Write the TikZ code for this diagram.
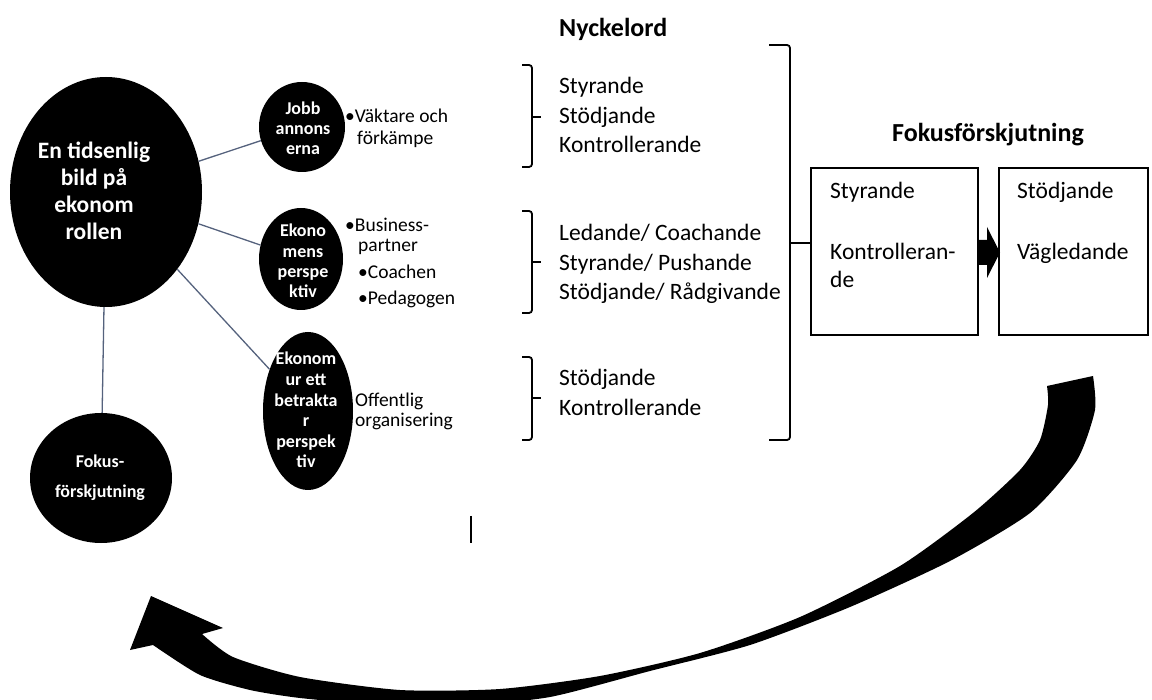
\documentclass[tikz,border=0pt]{standalone}
\usepackage{fontspec}
\setmainfont{Carlito}
\usetikzlibrary{shapes.geometric}
\definecolor{linkc}{RGB}{85,98,125}
\tikzset{
  blob/.style={ellipse, fill=black, inner sep=0pt},
  wtxt/.style={text=white, anchor=base, inner sep=0pt, font=\bfseries\fontsize{18}{20}\selectfont},
  wbig/.style={text=white, anchor=base, inner sep=0pt, font=\bfseries\fontsize{23.5}{27}\selectfont},
  ltxt/.style={anchor=base west, inner sep=0pt, font=\fontsize{23.5}{28}\selectfont},
  btxt/.style={anchor=base west, inner sep=0pt, font=\fontsize{19.5}{22}\selectfont},
  head/.style={anchor=base west, inner sep=0pt, font=\bfseries\fontsize{26}{30}\selectfont},
  link/.style={draw=linkc, line width=1.3pt},
  brk/.style={line width=1.8pt, rounded corners=3pt},
  boxnode/.style={draw, line width=1.8pt, inner sep=0pt, minimum height=167pt},
}
\begin{document}
\begin{tikzpicture}[x=1pt,y=-1pt]
\useasboundingbox (0,0) rectangle (1152,700);
\begin{scope}
\clip (0,0) rectangle (1152,700);

% ellipses
\node[blob, minimum width=192pt, minimum height=230pt] (main) at (106,192) {};
\node[blob, minimum width=86pt, minimum height=90pt] (jobb) at (302,127) {};
\node[blob, minimum width=84pt, minimum height=102pt] (ekon) at (301,259) {};
\node[blob, minimum width=90pt, minimum height=158pt] (betr) at (308,411) {};
\node[blob, minimum width=142pt, minimum height=130pt] (fokus) at (101,478) {};

% connectors
\draw[link] (main) -- (jobb);
\draw[link] (main) -- (ekon);
\draw[link] (main) -- (betr);
\draw[link] (main) -- (fokus);

% texts in ellipses
\foreach \t [count=\i] in {En tidsenlig,bild på,ekonom,rollen}
  \node[wbig] (mt\i) at (94,{159+27*(\i-1)}) {\t};
\foreach \t [count=\i] in {Jobb,annons,erna}
  \node[wtxt] (jt\i) at (303,{115+20*(\i-1)}) {\t};
\foreach \t [count=\i] in {Ekono,mens,perspe,ktiv}
  \node[wtxt] (et\i) at (303,{237+20.3*(\i-1)}) {\t};
\foreach \t [count=\i] in {Ekonom,ur ett,betrakta,r,perspek,tiv}
  \node[wtxt] (bt\i) at (306,{365+20.6*(\i-1)}) {\t};
\node[wtxt] (ft1) at (100,468) {Fokus-};
\node[wtxt] (ft2) at (100,497) {förskjutning};

% bullet texts
\node[btxt] (v1) at (345,123) {•Väktare och};
\node[btxt] (v2) at (357,145) {förkämpe};
\node[btxt] (p1) at (345,232) {•Business-};
\node[btxt] (p2) at (358,252) {partner};
\node[btxt] (p3) at (358,279) {•Coachen};
\node[btxt] (p4) at (358,305) {•Pedagogen};
\node[btxt] (o1) at (355,407) {Offentlig};
\node[btxt] (o2) at (355,427) {organisering};

% headings
\node[head] (nyck) at (559,37) {Nyckelord};
\node[head] (fokh) at (892,142) {Fokusförskjutning};

% keyword lists
\node[ltxt] (k11) at (559,94) {Styrande};
\node[ltxt] (k12) at (559,124) {Stödjande};
\node[ltxt] (k13) at (559,153) {Kontrollerande};
\node[ltxt] (k21) at (559,241) {Ledande/ Coachande};
\node[ltxt] (k22) at (559,271) {Styrande/ Pushande};
\node[ltxt] (k23) at (559,300) {Stödjande/ Rådgivande};
\node[ltxt] (k31) at (559,386) {Stödjande};
\node[ltxt] (k32) at (559,416) {Kontrollerande};

% small brackets
\draw[brk] (522,65) -- (532,65) -- (532,167) -- (522,167);
\draw[line width=1.8pt] (532,117) -- (541,117);
\draw[brk] (522,211) -- (532,211) -- (532,313) -- (522,313);
\draw[line width=1.8pt] (532,262) -- (541,262);
\draw[brk] (522,357) -- (532,357) -- (532,440) -- (522,440);
\draw[line width=1.8pt] (532,398) -- (541,398);

% boxes
\node[boxnode, minimum width=167pt] (b1) at (894.5,251.5) {};
\node[boxnode, minimum width=149pt] (b2) at (1073.5,251.5) {};
\node[ltxt] (s1) at (830,199) {Styrande};
\node[ltxt] (s2) at (830,260) {Kontrolleran-};
\node[ltxt] (s3) at (830,288) {de};
\node[ltxt] (s4) at (1017,199) {Stödjande};
\node[ltxt] (s5) at (1017,260) {Vägledande};

% big bracket
\draw[brk] (769,45) -- (790,45) -- (790,440) -- (769,440);
\coordinate (btk) at (790,243);
\draw[line width=1.8pt] (btk) -- (btk -| b1.west);

% block arrow between boxes
\fill (978,240) -- (987,240) -- (987,227) -- (1000,252.5) -- (987,278) -- (987,265) -- (978,265) -- cycle;

% small vertical stroke
\draw[line width=1.2pt] (471,516) -- (471,543);

% curved arrow
\fill (202,634) -- (223,628) -- (151,596) -- (130,650) -- (153,645)
  -- plot[smooth, tension=0.4] coordinates {(153,645) (200,675) (250,690) (300,698) (380,705) (460,706) (550,697) (650,671) (750,645) (850,607) (950,561) (1030,513) (1077,460) (1095,410) (1093,376)}
  -- plot[smooth, tension=0.4] coordinates {(1047,386) (1048,405) (1040,440) (1020,470) (973,513) (900,566) (800,617) (700,653) (600,676) (500,689) (400,690) (300,677) (233,657) (202,634)}
  -- cycle;
\end{scope}
\end{tikzpicture}
\end{document}
